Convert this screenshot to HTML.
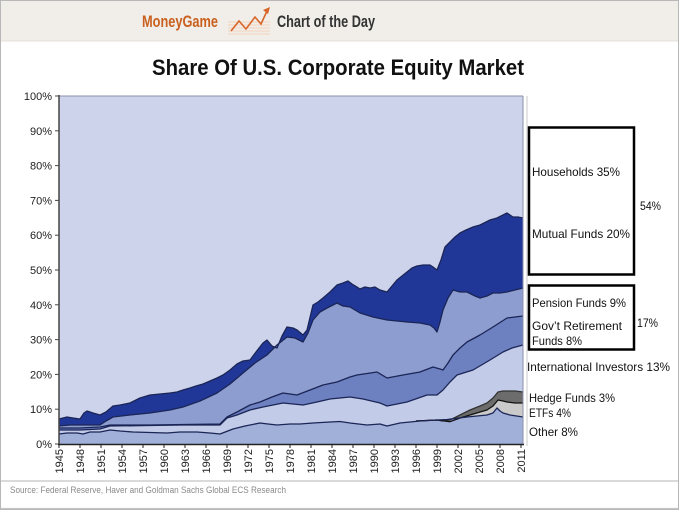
<!DOCTYPE html>
<html>
<head>
<meta charset="utf-8">
<style>
  html,body{margin:0;padding:0;background:#fff;}
  svg{display:block;}
  text{font-family:"Liberation Sans",sans-serif;}
</style>
</head>
<body>
<svg width="679" height="510" viewBox="0 0 679 510" xmlns="http://www.w3.org/2000/svg">
  <!-- header -->
  <rect x="0" y="0" width="679" height="41" fill="#f1eeea"/>
  <line x1="0" y1="41" x2="679" y2="41" stroke="#e4e0da" stroke-width="1"/>
  <text x="142" y="27" font-size="17" font-weight="bold" fill="#c9601d" textLength="76" lengthAdjust="spacingAndGlyphs">MoneyGame</text>
  <g stroke="#f3c9a8" stroke-width="0.8">
    <line x1="228" y1="22" x2="270" y2="22"/>
    <line x1="228" y1="25" x2="270" y2="25"/>
    <line x1="228" y1="28" x2="270" y2="28"/>
    <line x1="228" y1="31" x2="270" y2="31"/>
    <line x1="228" y1="34" x2="270" y2="34"/>
  </g>
  <polyline points="231,31 239,21 246,29 255,17 261,24 267,11" fill="none" stroke="#d8662a" stroke-width="1.6"/>
  <polygon points="270,7 263,10 268,14" fill="#d8662a"/>
  <text x="277" y="27" font-size="17" font-weight="bold" fill="#333" textLength="98" lengthAdjust="spacingAndGlyphs">Chart of the Day</text>

  <!-- title -->
  <text x="152" y="75" font-size="22" font-weight="bold" fill="#111" textLength="372" lengthAdjust="spacingAndGlyphs">Share Of U.S. Corporate Equity Market</text>

  <!-- plot background (households) -->
  <rect x="59" y="96" width="464" height="348" fill="#ccd3eb"/>

  <!-- mutual funds (dark blue) -->
  <polygon fill="#213797" points="59,419 63,418 67,417 73,418 80,419 84,413 87,411 93,413 100,415 106,412 113,406 120,405 130,403 140,398 150,395 160,394 170,393 177,392 183,390 190,388 196,386 203,384 210,381 217,378 223,375 230,370 237,364 243,361 250,360 256,352 263,343 267,340 272,346 277,348 282,336 287,327 293,328 297,330 303,335 307,330 313,305 318,302 323,298 330,292 337,285 343,283 348,281 352,284 357,287 360,289 365,287 370,288 375,287 380,290 387,292 392,286 397,280 402,276 407,272 412,268 417,266 423,265 430,265 433,267 437,270 441,260 445,247 450,242 455,237 460,233 466,230 473,227 480,225 490,220 497,218 503,215 507,213 510,215 513,217 518,217 523,218 523,444 59,444"/>
  <!-- pension -->
  <polygon fill="#8d9dcf" points="59,426 70,425 83,425 100,425 106,421 113,417 130,415 150,413 170,410 183,407 200,401 217,393 230,384 243,373 255,363 267,355 277,345 287,337 295,338 303,342 308,333 313,320 320,312 327,308 337,303 343,306 350,307 355,310 360,313 373,317 387,320 407,322 420,323 430,325 434,328 437,332 440,322 443,310 448,298 453,290 460,292 467,292 475,296 480,298 487,296 493,293 500,293 507,292 515,290 523,288 523,444 59,444"/>
  <!-- gov retirement -->
  <polygon fill="#6d81c0" points="59,428 80,428 100,427 110,425 150,425 183,424.5 220,424 227,417 237,412 250,405 260,402 272,397 283,393 297,395 310,390 323,385 337,382 350,377 357,375 377,372 387,378 403,375 420,372 433,367 440,369 443,370 448,363 453,355 460,348 467,342 480,335 493,327 507,318 515,317 523,316 523,444 59,444"/>
  <!-- international -->
  <polygon fill="#c2cbe8" points="59,430 80,430 100,429 110,426 150,425.5 183,425 220,425 227,418 237,415 250,410 263,407 283,403 293,404 303,405 317,402 330,399 350,397 363,399 380,403 387,406 407,402 427,395 437,395 443,390 450,382 457,375 473,370 490,360 503,352 512,348 523,345 523,444 59,444"/>
  <!-- hedge funds -->
  <polygon fill="#6c6c6c" points="416,421 437,420 443,421 450,420 460,415 470,410 480,406 487,403 493,398 498,392 503,391 507,391 515,391 523,392 523,444 416,444"/>
  <!-- ETFs -->
  <polygon fill="#cacaca" points="416,421 437,420 450,421.7 460,418 470,415 480,412 487,410 493,406 498,400 503,401 507,402 515,403 523,403 523,444 416,444"/>
  <!-- other -->
  <polygon fill="#a1b0d9" points="59,434 67,433 77,433 83,434 90,432 100,432 110,430 120,431 133,432 150,432.5 167,433 180,432 197,432 210,433 220,434 233,429 245,426 260,423 268,424 277,425 290,424 300,424 313,423 330,422 340,421.5 350,423 367,425 380,424 387,426 400,423 420,421 437,420 447,419.5 467,417 487,415 493,413 497,408 500,411 503,413 510,415 523,417 523,444 59,444"/>

  <!-- boundary lines -->
  <g fill="none" stroke="#1b2556" stroke-width="1.3" stroke-linejoin="round">
    <polyline points="59,419 63,418 67,417 73,418 80,419 84,413 87,411 93,413 100,415 106,412 113,406 120,405 130,403 140,398 150,395 160,394 170,393 177,392 183,390 190,388 196,386 203,384 210,381 217,378 223,375 230,370 237,364 243,361 250,360 256,352 263,343 267,340 272,346 277,348 282,336 287,327 293,328 297,330 303,335 307,330 313,305 318,302 323,298 330,292 337,285 343,283 348,281 352,284 357,287 360,289 365,287 370,288 375,287 380,290 387,292 392,286 397,280 402,276 407,272 412,268 417,266 423,265 430,265 433,267 437,270 441,260 445,247 450,242 455,237 460,233 466,230 473,227 480,225 490,220 497,218 503,215 507,213 510,215 513,217 518,217 523,218"/>
    <polyline points="59,426 70,425 83,425 100,425 106,421 113,417 130,415 150,413 170,410 183,407 200,401 217,393 230,384 243,373 255,363 267,355 277,345 287,337 295,338 303,342 308,333 313,320 320,312 327,308 337,303 343,306 350,307 355,310 360,313 373,317 387,320 407,322 420,323 430,325 434,328 437,332 440,322 443,310 448,298 453,290 460,292 467,292 475,296 480,298 487,296 493,293 500,293 507,292 515,290 523,288"/>
    <polyline points="59,428 80,428 100,427 110,425 150,425 183,424.5 220,424 227,417 237,412 250,405 260,402 272,397 283,393 297,395 310,390 323,385 337,382 350,377 357,375 377,372 387,378 403,375 420,372 433,367 440,369 443,370 448,363 453,355 460,348 467,342 480,335 493,327 507,318 515,317 523,316"/>
    <polyline points="59,430 80,430 100,429 110,426 150,425.5 183,425 220,425 227,418 237,415 250,410 263,407 283,403 293,404 303,405 317,402 330,399 350,397 363,399 380,403 387,406 407,402 427,395 437,395 443,390 450,382 457,375 473,370 490,360 503,352 512,348 523,345"/>
    <polyline stroke="#333" points="416,421 437,420 443,421 450,420 460,415 470,410 480,406 487,403 493,398 498,392 503,391 507,391 515,391 523,392"/>
    <polyline stroke="#111" points="416,421 437,420 450,421.7 460,418 470,415 480,412 487,410 493,406 498,400 503,401 507,402 515,403 523,403"/>
    <polyline points="59,434 67,433 77,433 83,434 90,432 100,432 110,430 120,431 133,432 150,432.5 167,433 180,432 197,432 210,433 220,434 233,429 245,426 260,423 268,424 277,425 290,424 300,424 313,423 330,422 340,421.5 350,423 367,425 380,424 387,426 400,423 420,421 437,420 447,419.5 467,417 487,415 493,413 497,408 500,411 503,413 510,415 523,417"/>
  </g>

  <!-- plot frame -->
  <line x1="59" y1="96" x2="523" y2="96" stroke="#8a8fa8" stroke-width="1"/>
  <line x1="523" y1="96" x2="523" y2="444" stroke="#8a8fa8" stroke-width="1"/>
  <line x1="527" y1="96" x2="527" y2="446" stroke="#c8c8c8" stroke-width="1"/>
  <line x1="59" y1="95" x2="59" y2="445" stroke="#444" stroke-width="1.5"/>
  <line x1="58" y1="444.5" x2="524" y2="444.5" stroke="#222" stroke-width="1.6"/>

  <!-- y ticks & labels -->
  <g stroke="#444" stroke-width="1">
    <line x1="55" y1="96" x2="59" y2="96"/>
    <line x1="55" y1="130.8" x2="59" y2="130.8"/>
    <line x1="55" y1="165.6" x2="59" y2="165.6"/>
    <line x1="55" y1="200.4" x2="59" y2="200.4"/>
    <line x1="55" y1="235.2" x2="59" y2="235.2"/>
    <line x1="55" y1="270" x2="59" y2="270"/>
    <line x1="55" y1="304.8" x2="59" y2="304.8"/>
    <line x1="55" y1="339.6" x2="59" y2="339.6"/>
    <line x1="55" y1="374.4" x2="59" y2="374.4"/>
    <line x1="55" y1="409.2" x2="59" y2="409.2"/>
    <line x1="55" y1="444" x2="59" y2="444"/>
  </g>
  <g font-size="11" fill="#222" text-anchor="end">
    <text x="52" y="100">100%</text>
    <text x="52" y="134.8">90%</text>
    <text x="52" y="169.6">80%</text>
    <text x="52" y="204.4">70%</text>
    <text x="52" y="239.2">60%</text>
    <text x="52" y="274">50%</text>
    <text x="52" y="308.8">40%</text>
    <text x="52" y="343.6">30%</text>
    <text x="52" y="378.4">20%</text>
    <text x="52" y="413.2">10%</text>
    <text x="52" y="448">0%</text>
  </g>

  <!-- x ticks -->
  <g stroke="#222" stroke-width="1">
    <line x1="59" y1="444" x2="59" y2="448"/>
    <line x1="80" y1="444" x2="80" y2="448"/>
    <line x1="101" y1="444" x2="101" y2="448"/>
    <line x1="122" y1="444" x2="122" y2="448"/>
    <line x1="143" y1="444" x2="143" y2="448"/>
    <line x1="164" y1="444" x2="164" y2="448"/>
    <line x1="185" y1="444" x2="185" y2="448"/>
    <line x1="206" y1="444" x2="206" y2="448"/>
    <line x1="227" y1="444" x2="227" y2="448"/>
    <line x1="248" y1="444" x2="248" y2="448"/>
    <line x1="269" y1="444" x2="269" y2="448"/>
    <line x1="290" y1="444" x2="290" y2="448"/>
    <line x1="311" y1="444" x2="311" y2="448"/>
    <line x1="332" y1="444" x2="332" y2="448"/>
    <line x1="353" y1="444" x2="353" y2="448"/>
    <line x1="374" y1="444" x2="374" y2="448"/>
    <line x1="395" y1="444" x2="395" y2="448"/>
    <line x1="416" y1="444" x2="416" y2="448"/>
    <line x1="437" y1="444" x2="437" y2="448"/>
    <line x1="458" y1="444" x2="458" y2="448"/>
    <line x1="479" y1="444" x2="479" y2="448"/>
    <line x1="500" y1="444" x2="500" y2="448"/>
    <line x1="521" y1="444" x2="521" y2="448"/>
  </g>
  <g font-size="11" fill="#222" text-anchor="end">
    <text transform="translate(63,449) rotate(-90)">1945</text>
    <text transform="translate(84,449) rotate(-90)">1948</text>
    <text transform="translate(105,449) rotate(-90)">1951</text>
    <text transform="translate(126,449) rotate(-90)">1954</text>
    <text transform="translate(147,449) rotate(-90)">1957</text>
    <text transform="translate(168,449) rotate(-90)">1960</text>
    <text transform="translate(189,449) rotate(-90)">1963</text>
    <text transform="translate(210,449) rotate(-90)">1966</text>
    <text transform="translate(231,449) rotate(-90)">1969</text>
    <text transform="translate(252,449) rotate(-90)">1972</text>
    <text transform="translate(273,449) rotate(-90)">1975</text>
    <text transform="translate(294,449) rotate(-90)">1978</text>
    <text transform="translate(315,449) rotate(-90)">1981</text>
    <text transform="translate(336,449) rotate(-90)">1984</text>
    <text transform="translate(357,449) rotate(-90)">1987</text>
    <text transform="translate(378,449) rotate(-90)">1990</text>
    <text transform="translate(399,449) rotate(-90)">1993</text>
    <text transform="translate(420,449) rotate(-90)">1996</text>
    <text transform="translate(441,449) rotate(-90)">1999</text>
    <text transform="translate(462,449) rotate(-90)">2002</text>
    <text transform="translate(483,449) rotate(-90)">2005</text>
    <text transform="translate(504,449) rotate(-90)">2008</text>
    <text transform="translate(525,449) rotate(-90)">2011</text>
  </g>

  <!-- legend boxes -->
  <rect x="529" y="127.5" width="105" height="147" fill="none" stroke="#000" stroke-width="2.5"/>
  <rect x="529" y="285.5" width="105" height="64" fill="none" stroke="#000" stroke-width="2.5"/>
  <g font-size="12" fill="#111">
    <text x="532" y="176" textLength="88" lengthAdjust="spacingAndGlyphs">Households 35%</text>
    <text x="532" y="238" textLength="98" lengthAdjust="spacingAndGlyphs">Mutual Funds 20%</text>
    <text x="640" y="210" textLength="21" lengthAdjust="spacingAndGlyphs">54%</text>
    <text x="532" y="307" textLength="94" lengthAdjust="spacingAndGlyphs">Pension Funds 9%</text>
    <text x="532" y="330" textLength="90" lengthAdjust="spacingAndGlyphs">Gov’t Retirement</text>
    <text x="532" y="345" textLength="50" lengthAdjust="spacingAndGlyphs">Funds 8%</text>
    <text x="637" y="327" textLength="21" lengthAdjust="spacingAndGlyphs">17%</text>
    <text x="527" y="371" textLength="143" lengthAdjust="spacingAndGlyphs">International Investors 13%</text>
    <text x="529" y="402" textLength="86" lengthAdjust="spacingAndGlyphs">Hedge Funds 3%</text>
    <text x="529" y="417" textLength="42" lengthAdjust="spacingAndGlyphs">ETFs 4%</text>
    <text x="529" y="436" textLength="49" lengthAdjust="spacingAndGlyphs">Other 8%</text>
  </g>

  <!-- footer -->
  <line x1="0" y1="481" x2="679" y2="481" stroke="#c4c4c4" stroke-width="1.2"/>
  <text x="10" y="493" font-size="9" fill="#8a8a8a" textLength="276" lengthAdjust="spacingAndGlyphs">Source: Federal Reserve, Haver and Goldman Sachs Global ECS Research</text>
  <line x1="0" y1="508.5" x2="679" y2="508.5" stroke="#c4c4c4" stroke-width="1.2"/>

  <!-- outer border -->
  <rect x="0.5" y="0.5" width="678" height="509" fill="none" stroke="#b8b8b8" stroke-width="1"/>
</svg>
</body>
</html>
